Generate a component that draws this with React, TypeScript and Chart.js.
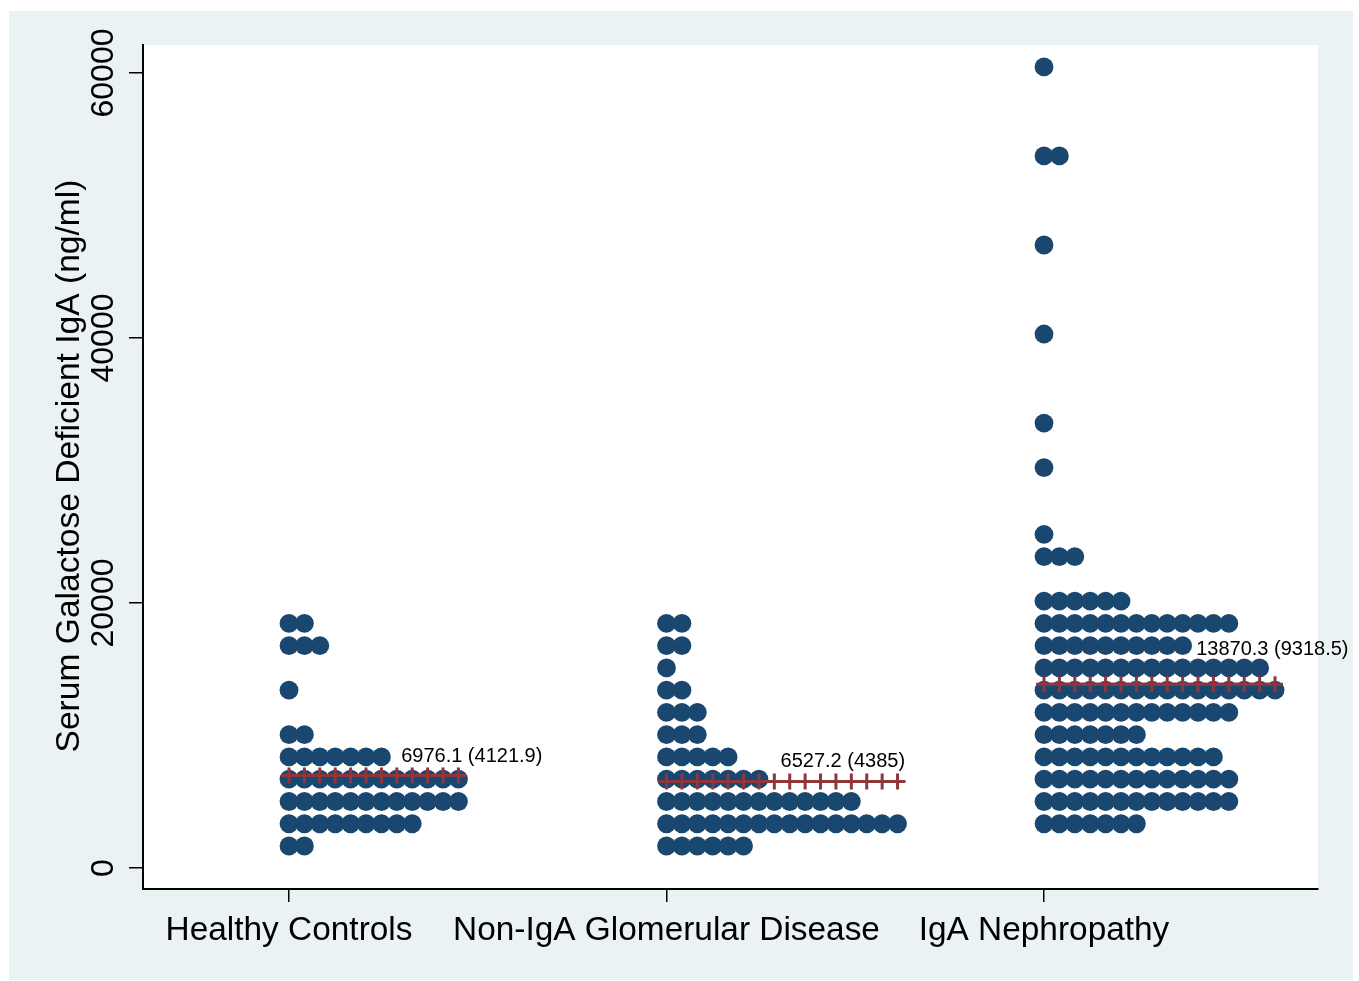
import React, { useEffect, useRef } from 'react';
import { Chart, registerables } from 'chart.js';

Chart.register(...registerables);

// ---------- Data ----------
const categories = ['Healthy Controls', 'Non-IgA Glomerular Disease', 'IgA Nephropathy'];
const categoryPositions = [1, 2, 3];

// dot-plot bins (ng/ml) and number of subjects in each bin
const healthyLevels = [1660, 3340, 5020, 6700, 8380, 10060, 13420, 16780, 18460];
const healthyCounts = [2, 9, 12, 12, 7, 2, 1, 3, 2];

const nonIgALevels = [1660, 3340, 5020, 6700, 8380, 10060, 11740, 13420, 15100, 16780, 18460];
const nonIgACounts = [6, 16, 13, 7, 5, 3, 3, 2, 1, 2, 2];

const igaLevels = [3340, 5020, 6700, 8380, 10060, 11740, 13420, 15100, 16780, 18460, 20140, 23500, 25180, 30220, 33580, 40300, 47020, 53740, 60460];
const igaCounts = [7, 13, 13, 12, 7, 13, 16, 15, 10, 13, 6, 3, 1, 1, 1, 1, 1, 2, 1];

const groupMeans = [6976.1, 6527.2, 13870.3];
const groupSDs = [4121.9, 4385, 9318.5];
const meanLabelX = [1.297, 2.302, 3.403];
const meanLabelY = [8000, 7623, 16075];

const yTicks = [0, 20000, 40000, 60000];
const yTitle = 'Serum Galactose Deficient IgA (ng/ml)';

// ---------- Styling ----------
const W = 1359;
const H = 981;
const DOT_STEP = 0.0408;
const NAVY = '#1a476f';
const MAROON = '#90353b';
const BG = '#eaf2f3';
const FONT = '"Liberation Sans", Arial, Helvetica, sans-serif';

const groups = [
  { levels: healthyLevels, counts: healthyCounts },
  { levels: nonIgALevels, counts: nonIgACounts },
  { levels: igaLevels, counts: igaCounts },
];

const decorPlugin = {
  id: 'decor',
  beforeDraw(chart: any) {
    const { ctx, chartArea } = chart;
    ctx.save();
    ctx.fillStyle = '#ffffff';
    ctx.fillRect(0, 0, W, H);
    ctx.fillStyle = BG;
    ctx.fillRect(9, 11, 1353 - 9, 980 - 11);
    ctx.fillStyle = '#ffffff';
    ctx.fillRect(chartArea.left, chartArea.top, chartArea.right - chartArea.left, chartArea.bottom - chartArea.top);
    ctx.restore();
  },
  afterDraw(chart: any) {
    const { ctx } = chart;
    const xs = chart.scales.x;
    const ys = chart.scales.y;
    ctx.save();
    ctx.fillStyle = '#000000';

    // y tick labels (rotated)
    ctx.font = `32px ${FONT}`;
    ctx.textAlign = 'center';
    ctx.textBaseline = 'alphabetic';
    yTicks.forEach((v) => {
      ctx.save();
      ctx.translate(113, ys.getPixelForValue(v));
      ctx.rotate(-Math.PI / 2);
      ctx.fillText(String(v), 0, 0);
      ctx.restore();
    });

    // y title
    ctx.font = `33.6px ${FONT}`;
    ctx.save();
    ctx.translate(79, 466);
    ctx.rotate(-Math.PI / 2);
    ctx.fillText(yTitle, 0, 0);
    ctx.restore();

    // x category labels
    ctx.font = `33.4px ${FONT}`;
    categories.forEach((c, i) => {
      ctx.fillText(c, xs.getPixelForValue(categoryPositions[i]), 940);
    });

    // mean (sd) labels
    ctx.font = `20px ${FONT}`;
    ctx.textAlign = 'left';
    groupMeans.forEach((m, i) => {
      ctx.fillText(`${m} (${groupSDs[i]})`, xs.getPixelForValue(meanLabelX[i]), ys.getPixelForValue(meanLabelY[i]));
    });
    ctx.restore();
  },
};

export default function App() {
  const canvasRef = useRef<HTMLCanvasElement | null>(null);

  useEffect(() => {
    if (!canvasRef.current) return;
    const datasets: any[] = [];
    groups.forEach((g, gi) => {
      const cat = categoryPositions[gi];
      const pts: { x: number; y: number }[] = [];
      g.levels.forEach((v, i) => {
        for (let j = 0; j < g.counts[i]; j++) pts.push({ x: cat + j * DOT_STEP, y: v });
      });
      datasets.push({
        label: categories[gi],
        data: pts,
        pointRadius: 9.4,
        pointHoverRadius: 9.4,
        backgroundColor: NAVY,
        borderColor: NAVY,
        borderWidth: 0,
        pointBorderWidth: 0,
        showLine: false,
        order: 2,
      });
      const n = Math.max(...g.counts);
      const linePts = Array.from({ length: n }, (_, j) => ({ x: cat + j * DOT_STEP, y: groupMeans[gi] }));
      datasets.push({
        label: categories[gi] + ' mean',
        data: linePts,
        showLine: true,
        borderColor: MAROON,
        borderWidth: 3,
        pointStyle: 'cross',
        pointRadius: 8,
        pointHoverRadius: 8,
        pointBorderWidth: 3,
        pointBorderColor: MAROON,
        pointBackgroundColor: MAROON,
        fill: false,
        tension: 0,
        order: 1,
      });
    });

    const chart = new Chart(canvasRef.current, {
      type: 'scatter',
      data: { datasets },
      options: {
        animation: false,
        responsive: false,
        devicePixelRatio: 1,
        events: [],
        layout: { padding: { top: 45, right: 41, left: 0, bottom: 0 } },
        plugins: { legend: { display: false }, tooltip: { enabled: false } },
        scales: {
          x: {
            type: 'linear',
            min: 0.6132,
            max: 3.7258,
            afterBuildTicks: (s: any) => { s.ticks = categoryPositions.map((v) => ({ value: v })); },
            afterFit: (s: any) => { s.height = H - 889; },
            ticks: { display: false },
            grid: { drawOnChartArea: false, drawTicks: true, tickLength: 13, color: '#000', lineWidth: 1.5 },
            border: { display: true, color: '#000', width: 2 },
          },
          y: {
            type: 'linear',
            min: -1585,
            max: 62113,
            afterBuildTicks: (s: any) => { s.ticks = yTicks.map((v) => ({ value: v })); },
            afterFit: (s: any) => { s.width = 143; },
            ticks: { display: false },
            grid: { drawOnChartArea: false, drawTicks: true, tickLength: 14, color: '#000', lineWidth: 1.5 },
            border: { display: true, color: '#000', width: 2 },
          },
        },
      },
      plugins: [decorPlugin],
    });
    return () => chart.destroy();
  }, []);

  return (
    <div style={{ position: 'fixed', left: 0, top: 0, width: W, height: H, background: '#fff' }}>
      <canvas ref={canvasRef} width={W} height={H} style={{ display: 'block', width: W, height: H }} />
    </div>
  );
}
